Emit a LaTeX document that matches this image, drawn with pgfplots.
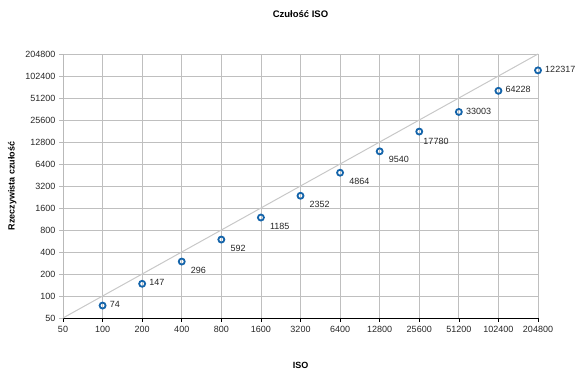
\documentclass[border=0pt]{standalone}
\usepackage{fontspec}
\setmainfont{Liberation Sans}
\usepackage{pgfplots}
\pgfplotsset{compat=1.18}
\definecolor{mk}{RGB}{20,100,170}
\definecolor{grid}{RGB}{185,185,185}
\definecolor{diag}{RGB}{200,200,200}
\begin{document}
\begin{tikzpicture}
\path[use as bounding box] (0,0) rectangle (585pt,-372pt);
\begin{axis}[
  at={(63pt,-318pt)}, anchor=south west,
  scale only axis, width=475pt, height=264pt,
  xmode=log, ymode=log, log basis x=2, log basis y=2,
  xmin=50, xmax=204800, ymin=50, ymax=204800,
  axis x line=bottom, axis y line=left,
  axis line style={-},
  x axis line style={black, line width=0.8pt},
  y axis line style={grid, line width=0.8pt},
  xtick={50,100,200,400,800,1600,3200,6400,12800,25600,51200,102400,204800},
  xticklabels={50,100,200,400,800,1600,3200,6400,12800,25600,51200,102400,204800},
  ytick={50,100,200,400,800,1600,3200,6400,12800,25600,51200,102400,204800},
  yticklabels={50,100,200,400,800,1600,3200,6400,12800,25600,51200,102400,204800},
  tick align=outside, major tick length=4pt,
  xtick style={black, line width=0.6pt},
  ytick style={grid, line width=0.8pt},
  ymajorgrids, major grid style={grid, line width=0.8pt},
  tick label style={font=\fontsize{9}{10}\selectfont, text=black!85},
  xticklabel style={yshift=-1pt},
  title={Czułość ISO},
  title style={at={(axis description cs:0.5,1.129)}, anchor=center, font=\fontsize{9.5}{10}\selectfont\bfseries},
  xlabel={ISO},
  xlabel style={at={(axis description cs:0.5,-0.178)}, anchor=center, font=\fontsize{9}{10}\selectfont\bfseries},
  ylabel={Rzeczywista czułość},
  ylabel style={at={(axis description cs:-0.107,0.5)}, anchor=center, rotate=0, font=\fontsize{9}{10}\selectfont\bfseries},
  clip=false,
]
\addplot[diag, line width=1pt, forget plot] coordinates {(50,50) (204800,204800)};
% labels to the right
\addplot[only marks, mark=o, mark size=3pt, mark options={mk, line width=1.8pt},
  nodes near coords, point meta=explicit symbolic,
  every node near coord/.style={anchor=west, xshift=3pt, yshift=1pt, font=\fontsize{9}{10}\selectfont, text=black!85}]
  table[meta=label] {
x y label
100 74 74
200 147 147
51200 33003 33003
102400 64228 64228
204800 122317 122317
};
% labels below right
\addplot[only marks, mark=o, mark size=3pt, mark options={mk, line width=1.8pt},
  nodes near coords, point meta=explicit symbolic,
  every node near coord/.style={anchor=west, xshift=5pt, yshift=-8.5pt, font=\fontsize{9}{10}\selectfont, text=black!85}]
  table[meta=label] {
x y label
400 296 296
800 592 592
1600 1185 1185
3200 2352 2352
6400 4864 4864
12800 9540 9540
};
% label below
\addplot[only marks, mark=o, mark size=3pt, mark options={mk, line width=1.8pt},
  nodes near coords, point meta=explicit symbolic,
  every node near coord/.style={anchor=west, xshift=0pt, yshift=-10pt, font=\fontsize{9}{10}\selectfont, text=black!85}]
  table[meta=label] {
x y label
25600 17780 17780
};
\end{axis}
\end{tikzpicture}
\end{document}
